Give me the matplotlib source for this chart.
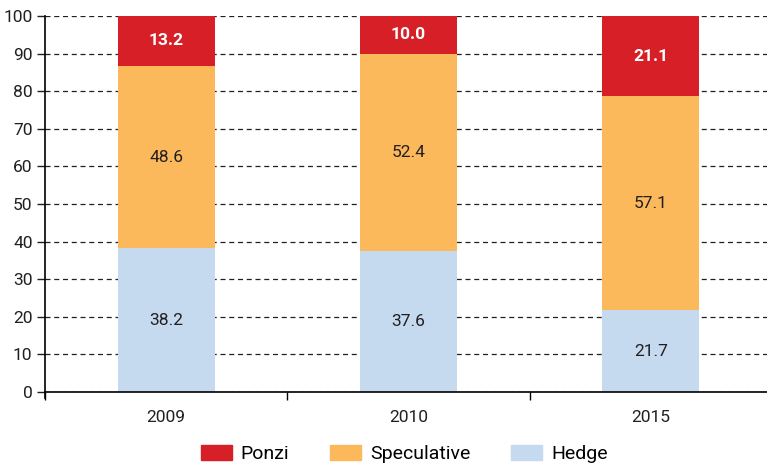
import matplotlib
matplotlib.use('Agg')
from matplotlib import pyplot as plt
from matplotlib.patches import Patch
import numpy as np

years = ['2009', '2010', '2015']
hedge = [38.2, 37.6, 21.7]
speculative = [48.6, 52.4, 57.1]
ponzi = [13.2, 10.0, 21.1]

c_hedge = '#c5d9ef'
c_spec = '#fbb95b'
c_ponzi = '#d61f27'

plt.rcParams['font.family'] = ['Roboto', 'DejaVu Sans']

fig = plt.figure(figsize=(7.67, 4.68), dpi=100)
ax = fig.add_axes([45 / 767, 1 - 392 / 468, 1 - 45 / 767, (392 - 16) / 468])

x = np.arange(len(years))
w = 0.4
h = np.array(hedge)
s = np.array(speculative)
p = np.array(ponzi)

ax.bar(x, h, w, color=c_hedge, zorder=2)
ax.bar(x, s, w, bottom=h, color=c_spec, zorder=2)
ax.bar(x, p, w, bottom=h + s, color=c_ponzi, zorder=2)

# value labels
fs = 12.5
for i in range(len(years)):
    ax.text(x[i], h[i] / 2, f'{hedge[i]:.1f}', ha='center', va='center',
            fontsize=fs, color='#231f20', zorder=3)
    ax.text(x[i], h[i] + s[i] / 2, f'{speculative[i]:.1f}', ha='center', va='center',
            fontsize=fs, color='#231f20', zorder=3)
    ax.text(x[i], h[i] + s[i] + p[i] / 2, f'{ponzi[i]:.1f}', ha='center', va='center',
            fontsize=fs, color='white', fontweight='bold', zorder=3)

ax.set_ylim(0, 100)
ax.set_xlim(-0.5, 2.48)
ax.set_yticks(np.arange(0, 101, 10))
ax.tick_params(axis='y', labelsize=fs, length=6, width=1, colors='#231f20', pad=3)

# year labels in the middle, ticks at category borders
ax.set_xticks([-0.5, 0.5, 1.5])
ax.set_xticklabels([])
ax.tick_params(axis='x', which='major', length=6, width=1, direction='out')
ax.set_xticks(x, minor=True)
ax.set_xticklabels(years, minor=True)
ax.tick_params(axis='x', which='minor', length=0, labelsize=fs, pad=13, colors='#231f20')

ax.yaxis.grid(True, linestyle=(0, (4, 3)), color='#231f20', linewidth=0.9, zorder=1)
ax.set_axisbelow(True)

for side in ['top', 'right']:
    ax.spines[side].set_visible(False)
ax.spines['left'].set_linewidth(1.2)
ax.spines['bottom'].set_linewidth(1.2)
ax.spines['left'].set_bounds(-1.5, 100)
ax.spines['left'].set_zorder(4)
ax.spines['bottom'].set_zorder(4)

handles = [Patch(color=c_ponzi, label='Ponzi'),
           Patch(color=c_spec, label='Speculative'),
           Patch(color=c_hedge, label='Hedge')]
fig.legend(handles=handles, loc='center', bbox_to_anchor=(0.527, 1 - 454 / 468), ncol=3,
           frameon=False, fontsize=14, handlelength=1.6, handleheight=0.8,
           columnspacing=2.1, handletextpad=0.45)

fig.savefig('out.png', dpi=100)
